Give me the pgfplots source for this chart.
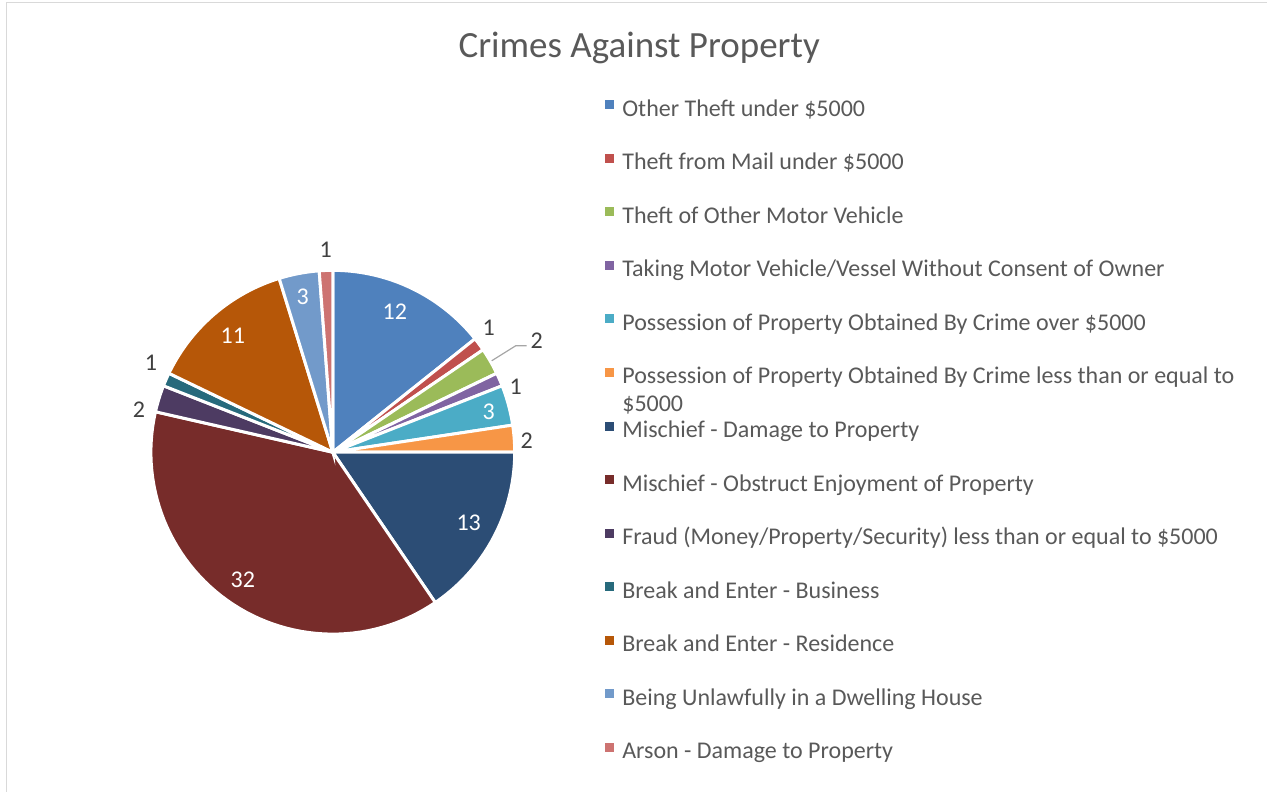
\documentclass[border=0pt]{standalone}
\usepackage{pgfplots}
\pgfplotsset{compat=1.18}
\usepackage{pgfplotstable}
\usepackage{fontspec}
\setmainfont{Carlito}

\definecolor{c0}{HTML}{4F81BD}
\definecolor{c1}{HTML}{C0504D}
\definecolor{c2}{HTML}{9BBB59}
\definecolor{c3}{HTML}{8064A2}
\definecolor{c4}{HTML}{4BACC6}
\definecolor{c5}{HTML}{F79646}
\definecolor{c6}{HTML}{2C4D75}
\definecolor{c7}{HTML}{772C2A}
\definecolor{c8}{HTML}{4D3B62}
\definecolor{c9}{HTML}{276A7C}
\definecolor{c10}{HTML}{B65708}
\definecolor{c11}{HTML}{729ACA}
\definecolor{c12}{HTML}{CD7371}
\definecolor{txt}{HTML}{595959}
\definecolor{lbl}{HTML}{404040}
\definecolor{frame}{HTML}{D9D9D9}

% counts, clockwise from 12 o'clock
\pgfplotstableread{
count
12
1
2
1
3
2
13
32
2
1
11
3
1
}\crimes

\begin{document}%
\begin{tikzpicture}
\def\total{0}
\pgfplotstableforeachcolumnelement{count}\of\crimes\as\v{%
  \pgfmathsetmacro\tmp{\total+\v}\global\let\total\tmp}
\def\cum{0}
\begin{axis}[
  scale only axis,
  width=1268bp, height=792bp,
  xmin=0, xmax=1268, ymin=0, ymax=792,
  hide axis, clip=false,
  legend cell align=left,
  legend style={at={(axis cs:605,693)}, anchor=north west, draw=none, fill=none,
    inner sep=0pt, row sep=30.6bp, text=txt,
    font=\fontsize{24bp}{28bp}\selectfont,
    nodes={inner sep=0pt, text height=17bp, text depth=6bp}},
  legend image code/.code={\fill[#1, draw=none] (0bp,1.5bp) rectangle (9bp,10.5bp); \path (16bp,0bp);},
  legend entries={
    Other Theft under \$5000,
    Theft from Mail under \$5000,
    Theft of Other Motor Vehicle,
    Taking Motor Vehicle/Vessel Without Consent of Owner,
    Possession of Property Obtained By Crime over \$5000,
    {\parbox[t]{640bp}{Possession of Property Obtained By Crime less than or equal to\\\$5000}},
    Mischief - Damage to Property,
    Mischief - Obstruct Enjoyment of Property,
    Fraud (Money/Property/Security) less than or equal to \$5000,
    Break and Enter - Business,
    Break and Enter - Residence,
    Being Unlawfully in a Dwelling House,
    Arson - Damage to Property},
]
\path (rel axis cs:0,0) rectangle (rel axis cs:1,1);
\pgfplotsinvokeforeach{0,...,12}{
  \pgfplotstablegetelem{#1}{count}\of\crimes
  \pgfmathsetmacro\angA{90-360*(\cum/\total)}
  \pgfmathsetmacro\cumnew{\cum+\pgfplotsretval}
  \global\let\cum\cumnew
  \pgfmathsetmacro\angB{90-360*(\cum/\total)}
  \edef\doslice{\noexpand\addplot[fill=c#1, draw=white, line width=3bp,
      domain=\angB:\angA, samples=60, variable=\noexpand\t]
    ({333+182*cos(\noexpand\t)}, {339.5+182*sin(\noexpand\t)}) -- (axis cs:333,339.5) -- cycle;}
  \doslice
}

% chart frame
\draw[frame, line width=1.5bp] (axis cs:6.5,0) -- (axis cs:6.5,789.5) -- (axis cs:1268,789.5);

% title
\node[font=\fontsize{37bp}{44bp}\selectfont, text=txt, anchor=base]
  at (axis cs:639.5,734) {Crimes Against Property};

% data labels
\begin{scope}[every node/.style={font=\fontsize{24bp}{28bp}\selectfont}]
\node[text=white] at (axis cs:395,480) {12};
\node[text=lbl] at (axis cs:489,464) {1};
\node[text=lbl] at (axis cs:537,451) {2};
\node[text=lbl] at (axis cs:516,405) {1};
\node[text=white] at (axis cs:489,380) {3};
\node[text=lbl] at (axis cs:527,351) {2};
\node[text=white] at (axis cs:469,269) {13};
\node[text=white] at (axis cs:243,212) {32};
\node[text=lbl] at (axis cs:139,382) {2};
\node[text=lbl] at (axis cs:151,429) {1};
\node[text=white] at (axis cs:233,456) {11};
\node[text=white] at (axis cs:303,495) {3};
\node[text=lbl] at (axis cs:326,542) {1};
\end{scope}
\draw[gray!70, line width=1.2bp] (axis cs:492,431) -- (axis cs:516,446) -- (axis cs:527,446);
\end{axis}
\end{tikzpicture}%
\end{document}
